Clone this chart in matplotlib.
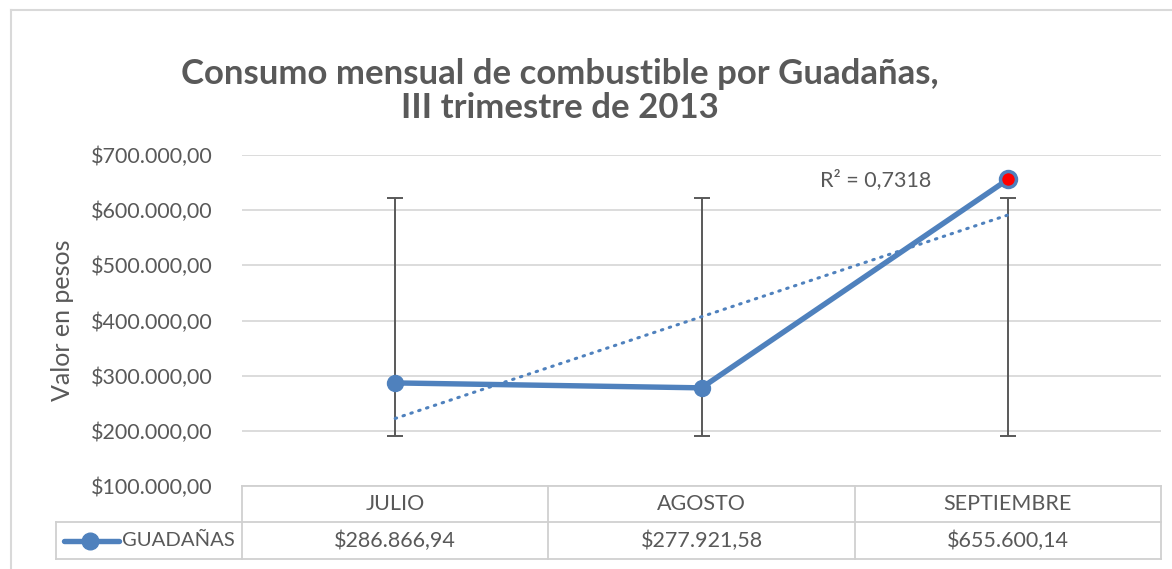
import matplotlib
matplotlib.use("Agg")
import matplotlib.pyplot as plt
import matplotlib.transforms as mtransforms
import numpy as np

# ---- data ----
categories = ["JULIO", "AGOSTO", "SEPTIEMBRE"]
values = [286866.94, 277921.58, 655600.14]
value_labels = ["$286.866,94", "$277.921,58", "$655.600,14"]
series_name = "GUADAÑAS"
r2_label = "R² = 0,7318"
ytick_values = [100000, 200000, 300000, 400000, 500000, 600000, 700000]
ytick_labels = ["$100.000,00", "$200.000,00", "$300.000,00", "$400.000,00",
                "$500.000,00", "$600.000,00", "$700.000,00"]
title_text = "Consumo mensual de combustible por Guadañas,\nIII trimestre de 2013"
ylabel_text = "Valor en pesos"

W, H = 1172, 569
FONT = "Lato"
TXT = "#595959"
BLUE = "#4F81BD"
GRID = "#D9D9D9"

fig = plt.figure(figsize=(W / 100, H / 100), dpi=100)
fig.patch.set_facecolor("white")

def fx(px):
    return px / W

def fy(py):
    return 1 - py / H

# plot area
left_px, right_px, top_px, bot_px = 242, 1161, 155, 486
ax = fig.add_axes([fx(left_px), fy(bot_px), fx(right_px - left_px), (bot_px - top_px) / H])
ax.set_facecolor("white")

x = np.arange(1, len(categories) + 1)
ax.set_xlim(0.5, len(categories) + 0.5)
ax.set_ylim(ytick_values[0], ytick_values[-1])

for s in ax.spines.values():
    s.set_visible(False)
ax.set_yticks(ytick_values)
ax.set_yticklabels(ytick_labels, fontsize=15.5, color=TXT, family=FONT)
ax.tick_params(axis="y", length=0, pad=21)
ax.set_xticks([])
for yv in ytick_values:
    ax.axhline(yv, color=GRID, lw=1.3, zorder=0)

# error bars (standard deviation, centered at series mean)
mean = np.mean(values)
sd = np.std(values, ddof=1)
ax.errorbar(x, [mean] * len(x), yerr=sd, fmt="none", ecolor="#595959",
            elinewidth=1.4, capsize=5.5, capthick=1.4, zorder=2)

# linear trendline
coef = np.polyfit(x, values, 1)
ax.plot(x, np.polyval(coef, x), ls=(0, (0.5, 2.2)), color=BLUE, lw=2.2,
        dash_capstyle="round", zorder=3)

# main line
ax.plot(x, values, color=BLUE, lw=3.9, marker="o", ms=11.5,
        markerfacecolor=BLUE, markeredgecolor=BLUE, zorder=4,
        solid_capstyle="round")
ax.plot(x[-1:], values[-1:], ls="none", marker="o", ms=11.5,
        markerfacecolor="#FF0000", markeredgecolor=BLUE, markeredgewidth=2.5, zorder=5)

ax.text(x[-1] - 0.25, values[-1], r2_label, fontsize=15.5, color=TXT, family=FONT,
        ha="right", va="center")

ax.set_ylabel(ylabel_text, fontsize=18, color=TXT, family=FONT, labelpad=12)

# ---- data table ----
trans = mtransforms.blended_transform_factory(ax.transData, fig.transFigure)
t_top, t_mid, t_bot = fy(486), fy(522), fy(559)
edges = np.arange(0.5, len(categories) + 1, 1.0)
LC = "#D0D0D0"
for yy in (t_top, t_mid, t_bot):
    ax.plot([edges[0], edges[-1]], [yy, yy], transform=trans, color=LC, lw=1.3, clip_on=False)
for e in edges:
    ax.plot([e, e], [t_top, t_bot], transform=trans, color=LC, lw=1.3, clip_on=False)
# legend cell
fig.add_artist(plt.Line2D([fx(56), fx(242)], [t_mid, t_mid], color=LC, lw=1.3))
fig.add_artist(plt.Line2D([fx(56), fx(242)], [t_bot, t_bot], color=LC, lw=1.3))
fig.add_artist(plt.Line2D([fx(56), fx(56)], [t_mid, t_bot], color=LC, lw=1.3))

for xi, cat, lab in zip(x, categories, value_labels):
    ax.text(xi, (t_top + t_mid) / 2, cat, transform=trans, ha="center", va="center",
            fontsize=15.5, color=TXT, family=FONT)
    ax.text(xi, (t_mid + t_bot) / 2, lab, transform=trans, ha="center", va="center",
            fontsize=15.5, color=TXT, family=FONT)

ly = (t_mid + t_bot) / 2
fig.add_artist(plt.Line2D([fx(64), fx(119)], [ly, ly], color=BLUE, lw=3.9,
                          solid_capstyle="round"))
fig.add_artist(plt.Line2D([fx(90)], [ly], color=BLUE, marker="o", ms=12, ls="none"))
fig.text(fx(122), ly, series_name, ha="left", va="center", fontsize=14.6, color=TXT, family=FONT)

# title
fig.text(fx(560), fy(91), title_text, ha="center", va="center", fontsize=25,
         fontweight="bold", color=TXT, family=FONT, linespacing=1.08)

# chart border
fig.add_artist(plt.Line2D([fx(11), fx(11)], [fy(10), 0], color="#D9D9D9", lw=1.5))
fig.add_artist(plt.Line2D([fx(11), 1], [fy(10), fy(10)], color="#D9D9D9", lw=1.5))

fig.savefig("out.png", dpi=100, facecolor="white")
